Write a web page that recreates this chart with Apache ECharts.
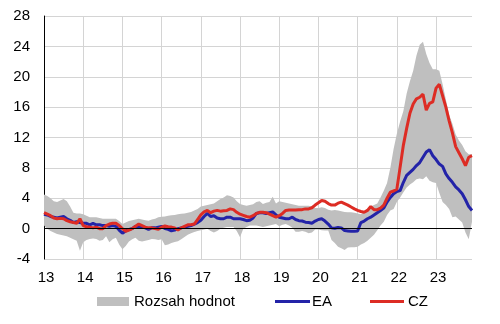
<!DOCTYPE html>
<html>
<head>
<meta charset="utf-8">
<script src="https://cdn.jsdelivr.net/npm/echarts@6/dist/echarts.min.js"></script>
<style>
  html, body { margin: 0; padding: 0; background: #fff; }
  #chart { width: 500px; height: 324px; }
</style>
</head>
<body>
<div id="chart"></div>
<script>
// Year tick labels (one category per month, Jan 2013 – Dec 2023)
const years = ['13', '14', '15', '16', '17', '18', '19', '20', '21', '22', '23'];

// Euro area inflation, % y/y
const ea = [
  1.9, 1.8, 1.6, 1.5, 1.4, 1.5, 1.6, 1.3, 1.1, 0.8, 0.9, 0.8,
  0.7, 0.7, 0.5, 0.7, 0.5, 0.5, 0.4, 0.4, 0.3, 0.4, 0.3, -0.2,
  -0.6, -0.3, -0.1, 0.0, 0.3, 0.2, 0.2, 0.1, -0.1, 0.1, 0.1, 0.2,
  0.3, 0.0, -0.1, -0.3, -0.2, 0.0, 0.1, 0.2, 0.3, 0.4, 0.6, 0.8,
  1.1, 1.6, 2.0, 1.6, 1.7, 1.4, 1.3, 1.3, 1.5, 1.5, 1.3, 1.3,
  1.3, 1.2, 1.05, 1.1, 1.4, 2.0, 2.1, 2.1, 2.0, 2.1, 2.2, 1.8,
  1.5, 1.4, 1.3, 1.3, 1.5, 1.2, 1.05, 1.0, 0.85, 0.8, 0.7, 1.0,
  1.2, 1.3, 1.0, 0.6, 0.1, 0.05, 0.15, 0.1, -0.25, -0.3, -0.35, -0.35,
  -0.3, 0.8, 1.0, 1.3, 1.5, 1.8, 2.1, 2.4, 2.7, 3.5, 4.1, 4.6,
  4.9, 5.0, 6.1, 7.0, 7.4, 7.8, 8.3, 8.7, 9.4, 10.1, 10.4, 9.6,
  9.1, 8.5, 8.2, 7.2, 6.6, 6.1, 5.5, 5.1, 4.6, 3.8, 2.9, 2.4
];

// Czech inflation, % y/y
const cz = [
  2.1, 1.9, 1.7, 1.4, 1.3, 1.35, 1.3, 1.05, 0.9, 0.8, 0.7, 1.3,
  0.4, 0.25, 0.2, 0.1, 0.2, 0.0, 0.0, 0.4, 0.6, 0.7, 0.7, 0.4,
  0.0, -0.35, -0.2, 0.0, 0.3, 0.6, 0.4, 0.2, 0.1, 0.1, 0.0, -0.1,
  0.2, 0.35, 0.25, 0.2, 0.1, -0.2, 0.1, 0.3, 0.5, 0.5, 0.6, 1.2,
  1.8, 2.2, 2.4, 2.1, 2.3, 2.4, 2.3, 2.35, 2.4, 2.6, 2.5, 2.15,
  1.9, 1.75, 1.6, 1.5, 1.7, 2.0, 2.15, 2.15, 2.1, 1.9, 1.7, 1.5,
  1.7, 2.0, 2.4, 2.45, 2.45, 2.45, 2.5, 2.5, 2.6, 2.6, 2.75, 3.1,
  3.4, 3.7, 3.6, 3.3, 3.1, 3.1, 3.35, 3.5, 3.3, 3.1, 2.85, 2.6,
  2.4, 2.25, 2.15, 2.4, 2.9, 2.5, 2.5, 2.7, 3.1, 4.0, 4.8, 4.95,
  5.2, 8.1, 11.0, 13.2, 15.2, 16.4, 17.1, 17.3, 17.7, 15.6, 16.5, 16.7,
  18.5, 19.0, 17.5, 16.0, 14.2, 12.6, 10.8, 10.0, 9.2, 8.3, 9.4, 9.6
];

// Range of values: upper and lower bound
const rangeMax = [
  4.5, 4.3, 4.0, 3.6, 3.5, 3.7, 3.9, 3.6, 2.9, 2.1, 2.0, 2.0,
  1.9, 1.7, 1.5, 1.5, 1.5, 1.4, 1.3, 1.3, 1.3, 1.3, 1.3, 1.0,
  0.6, 0.8, 1.0, 1.1, 1.2, 1.3, 1.2, 1.1, 1.05, 1.2, 1.3, 1.5,
  1.55, 1.6, 1.7, 1.75, 1.8, 1.9, 1.95, 2.0, 2.1, 2.2, 2.4, 2.6,
  2.9, 3.0, 3.1, 3.2, 3.3, 3.6, 3.9, 4.1, 4.4, 4.3, 4.1, 3.6,
  3.25, 3.1, 3.0, 3.1, 3.2, 3.5, 3.6, 3.25, 3.4, 3.5, 4.2, 3.3,
  3.6, 3.5, 3.4, 3.3, 3.2, 3.1, 3.0, 3.0, 3.0, 3.0, 2.9, 2.7,
  2.7, 2.8, 2.7, 2.5, 2.4, 2.45, 2.4, 2.3, 2.2, 2.15, 2.15, 2.1,
  2.0, 1.9, 2.2, 2.5, 2.9, 3.1, 3.3, 4.1, 5.0, 6.0, 8.0, 10.5,
  12.5, 14.1, 15.5, 17.8, 19.4, 20.8, 22.8, 24.2, 24.6, 23.0, 21.8, 21.0,
  21.0, 20.8, 19.0, 17.0, 15.0, 13.8, 12.4, 11.6, 11.0, 10.2, 9.8, 9.8
];
const rangeMin = [
  0.4, 0.0, -0.3, -0.5, -0.7, -0.8, -0.9, -1.0, -1.2, -1.4, -1.6, -2.9,
  -1.8, -1.5, -1.35, -1.3, -1.35, -1.6, -1.5, -1.0, -1.8, -1.4, -1.2, -2.1,
  -2.7, -2.3, -1.7, -1.4, -1.2, -1.6, -1.7, -1.6, -1.5, -1.35, -1.4, -1.5,
  -1.4, -2.2, -2.1, -1.9, -1.75, -1.65, -1.4, -1.1, -0.8, -0.6, -0.45, -0.3,
  -0.2, -0.1, 0.0, -0.3, -0.5, -0.3, 0.0, 0.1, 0.2, 0.2, 0.2, -0.3,
  -1.15, 0.0, 0.2, 0.4, 0.4, 0.4, 0.3, 0.2, 0.3, 0.4, 0.5, 0.6,
  0.3, 0.5, 0.6, 0.4, 0.1, -0.4, -0.4, -0.3, -0.4, -0.6, -0.5, -0.1,
  -0.1, -0.2, -0.25, -0.25, -1.5, -1.9, -2.4, -2.6, -2.8, -2.5, -2.45, -2.45,
  -2.4, -2.1, -1.9, -1.6, -1.2, -0.8, -0.2, 0.4, 0.9, 1.8, 2.4, 2.6,
  3.5, 4.1, 4.8, 5.4, 5.8, 6.1, 6.5, 6.6, 6.5, 6.9, 6.3, 6.1,
  6.0, 4.7, 3.5, 3.1, 2.6, 1.5, 1.6, 1.2, 0.8, -0.5, -1.4, 0.9
];

// Monthly categories built from the year labels
const months = [];
years.forEach(function (y) {
  for (let m = 1; m <= 12; m++) months.push('20' + y + '-' + (m < 10 ? '0' + m : m));
});
const rangeSpan = rangeMax.map(function (v, i) { return +(v - rangeMin[i]).toFixed(2); });

const FONT = '"Liberation Sans", Arial, sans-serif';
const GRID = '#d4d4d4';
const BAND = '#bfbfbf';
const BLUE = '#2323a8';
const RED = '#dd2c24';
const isJan = function (i) { return i % 12 === 0; };

const chart = echarts.init(document.getElementById('chart'), null, { renderer: 'canvas' });
chart.setOption({
  animation: false,
  textStyle: { fontFamily: FONT },
  grid: { left: 44, right: 28, top: 16, bottom: 65 },
  legend: [
    {
      data: [{ name: 'Rozsah hodnot', icon: 'rect' }],
      left: 92, top: 289, itemWidth: 32, itemHeight: 9, itemGap: 0,
      textStyle: { fontSize: 15, color: '#000', fontFamily: FONT }
    },
    {
      data: [{ name: 'EA', icon: 'rect' }],
      left: 270, top: 289, itemWidth: 35, itemHeight: 3, itemGap: 0,
      textStyle: { fontSize: 15, color: '#000', fontFamily: FONT, padding: [0, 0, 0, -3] }
    },
    {
      data: [{ name: 'CZ', icon: 'rect' }],
      left: 365, top: 289, itemWidth: 34, itemHeight: 3, itemGap: 0,
      textStyle: { fontSize: 15, color: '#000', fontFamily: FONT, padding: [0, 0, 0, -1] }
    }
  ],
  xAxis: {
    type: 'category',
    data: months,
    boundaryGap: false,
    axisLine: { show: false },
    axisTick: { show: false },
    axisLabel: {
      interval: isJan,
      formatter: function (v) { return v.slice(2, 4); },
      fontSize: 15, color: '#000', fontFamily: FONT, margin: 11,
      padding: [0, 0, 0, 4]
    },
    splitLine: { show: true, interval: isJan, lineStyle: { color: GRID, width: 1 } }
  },
  yAxis: {
    type: 'value',
    min: -4, max: 28, interval: 4,
    axisLine: { show: true, lineStyle: { color: '#000', width: 1 } },
    axisTick: { show: false },
    axisLabel: { fontSize: 15, color: '#000', fontFamily: FONT, margin: 14 },
    splitLine: { show: true, lineStyle: { color: GRID, width: 1 } }
  },
  series: [
    {
      name: 'band-base', type: 'line', data: rangeMin,
      stack: 'band', stackStrategy: 'all',
      symbol: 'none', silent: true,
      lineStyle: { opacity: 0, width: 0 }
    },
    {
      name: 'Rozsah hodnot', type: 'line', data: rangeSpan,
      stack: 'band', stackStrategy: 'all',
      symbol: 'none', silent: true, color: BAND,
      lineStyle: { opacity: 0, width: 0 },
      areaStyle: { color: BAND, opacity: 1 },
      markLine: {
        silent: true, symbol: 'none',
        label: { show: false },
        lineStyle: { color: '#000', width: 1, type: 'solid' },
        data: [{ yAxis: 0 }]
      }
    },
    {
      name: 'EA', type: 'line', data: ea, color: BLUE,
      symbol: 'none', silent: true,
      lineStyle: { color: BLUE, width: 3 }
    },
    {
      name: 'CZ', type: 'line', data: cz, color: RED,
      symbol: 'none', silent: true,
      lineStyle: { color: RED, width: 3 }
    }
  ]
});
</script>
</body>
</html>
